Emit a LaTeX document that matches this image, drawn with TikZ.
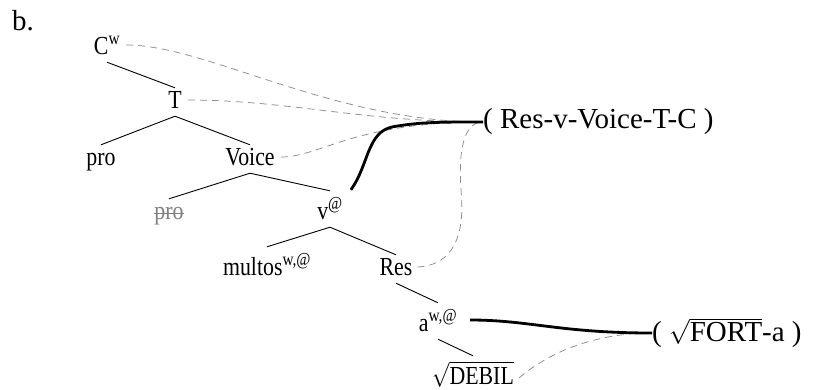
\documentclass[tikz,border=0pt]{standalone}
\usepackage{fontspec}
\usepackage{graphicx}
\setmainfont{Liberation Serif}
\usetikzlibrary{calc}
\newcommand\narrowlbl[1]{\scalebox{0.84}[1]{#1}}
\begin{document}
\begin{tikzpicture}[x=1pt,y=-1pt,
  lbl/.style={font=\fontsize{26}{30}\selectfont, text height=16pt, text depth=4pt, inner xsep=1pt, inner ysep=4pt, anchor=base},
  tall/.style={text height=24pt},
  big/.style={font=\fontsize{29}{33}\selectfont, inner sep=0pt},
  branch/.style={line width=0.9pt},
  link/.style={draw=black!45, line width=0.75pt, dash pattern=on 7pt off 5pt},
  heavy/.style={line width=2.8pt}
]
\path[use as bounding box] (0,0) rectangle (816,389);

\node[big, anchor=base west] (lab) at (12,30) {b.};
\node[lbl] (C) at (107,54) {\narrowlbl{C\textsuperscript{w}}};
\node[lbl] (T) at (175,108) {\narrowlbl{T}};
\node[lbl] (pro) at (101,165) {\narrowlbl{pro}};
\node[lbl] (Voice) at (250,165) {\narrowlbl{Voice}};
\node[lbl, text=black!50] (pros) at (169,219) {\narrowlbl{pro}};
\node[lbl, tall] (v) at (330,219) {\narrowlbl{v\textsuperscript{@}}};
\node[lbl, tall] (mult) at (267,275) {\narrowlbl{multos\textsuperscript{w,@}}};
\node[lbl] (Res) at (396,275) {\narrowlbl{Res}};
\node[lbl, tall] (a) at (438,331) {\narrowlbl{a\textsuperscript{w,@}}};
\node[lbl, tall] (deb) at (473,384) {\narrowlbl{$\sqrt{\mbox{DEBIL}}$}};
\node[big, anchor=west] (rvv) at (483,122) {( Res-v-Voice-T-C )};
\node[big, anchor=west] (fort) at (652,333) {( $\sqrt{\mbox{FORT}}$-a )};

% strike-through of the deleted pro
\draw[black!50, line width=0.7pt] ([shift={(1,-6)}]pros.base west) -- ([shift={(-1,-6)}]pros.base east);

% tree branches
\draw[branch] (C.south) -- (T.north);
\draw[branch] (T.south) -- (pro.north);
\draw[branch] (T.south) -- (Voice.north);
\draw[branch] (Voice.south) -- (pros.north);
\draw[branch] (Voice.south) -- (v.north);
\draw[branch] (v.south) -- (mult.north);
\draw[branch] (v.south) -- (Res.north);
\draw[branch] (Res.south) -- (a.north);
\draw[branch] (a.south) -- (deb.north);

% dashed links
\draw[link] ([shift={(5,-3)}]C.east) .. controls +(80,0) and +(-150,0) .. (rvv.west);
\draw[link] ([shift={(5,-2)}]T.east) .. controls +(100,0) and +(-120,0) .. (rvv.west);
\draw[link] ([shift={(5,-2)}]Voice.east) .. controls +(40,0) and +(-130,0) .. (rvv.west);
\draw[link] ([shift={(4,-2)}]Res.east) .. controls +(38,-2) and +(2,35) .. ++(44,-70)
            .. controls +(-4,-45) and +(-20,0) .. (rvv.west);
\draw[link] ([shift={(4,4)}]deb.east) .. controls +(35,-30) and +(-50,0) .. (fort.west);

% heavy links
\draw[heavy] ([shift={(7,-1)}]v.north east) .. controls +(18,-25) and +(-26,5) .. ++(42,-63)
             .. controls +(28,-5) and +(-40,0) .. (rvv.west);
\draw[heavy] ([shift={(12,-1)}]a.east) .. controls +(59,0) and +(-92,0) .. (fort.west);
\end{tikzpicture}
\end{document}
